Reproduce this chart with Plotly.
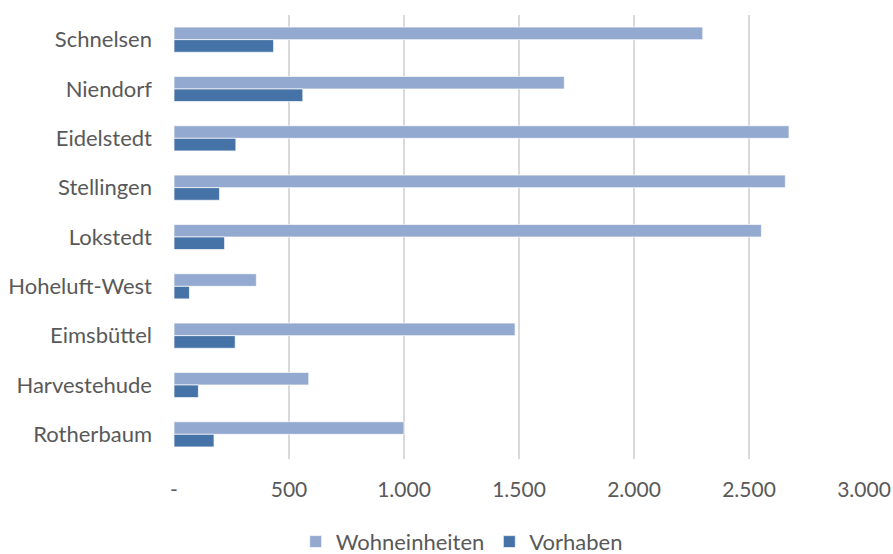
import plotly.graph_objects as go

categories = ["Schnelsen", "Niendorf", "Eidelstedt", "Stellingen", "Lokstedt",
              "Hoheluft-West", "Eimsbüttel", "Harvestehude", "Rotherbaum"]
wohneinheiten = [2299, 1697, 2674, 2658, 2554, 358, 1483, 586, 1000]
vorhaben = [433, 560, 269, 198, 220, 67, 266, 106, 174]
tick_vals = [0, 500, 1000, 1500, 2000, 2500, 3000]
tick_text = ["-", "500", "1.000", "1.500", "2.000", "2.500", "3.000"]

font_family = "Lato, 'Open Sans', sans-serif"
text_color = "#595959"

fig = go.Figure()
fig.add_trace(go.Bar(
    name="Wohneinheiten", y=categories, x=wohneinheiten, orientation="h",
    marker=dict(color="#94A9CF", line=dict(color="rgba(255,255,255,0.7)", width=1)),
))
fig.add_trace(go.Bar(
    name="Vorhaben", y=categories, x=vorhaben, orientation="h",
    marker=dict(color="#4572A7", line=dict(color="rgba(255,255,255,0.7)", width=1)),
))

fig.update_layout(
    width=893, height=554,
    margin=dict(l=174, r=29, t=15, b=95, autoexpand=False),
    barmode="group", bargap=0.49, bargroupgap=0,
    plot_bgcolor="white", paper_bgcolor="white",
    font=dict(family=font_family, size=21, color=text_color),
    showlegend=True,
    legend=dict(orientation="h", xref="container", x=0.517, xanchor="center",
                yref="container", y=0.022, yanchor="middle",
                font=dict(size=22, color=text_color), traceorder="normal",
                itemwidth=30),
)
fig.update_xaxes(
    range=[0, 3000], tickvals=tick_vals, ticktext=tick_text,
    showgrid=True, gridcolor="#D9D9D9", gridwidth=1.5,
    zeroline=False, showline=False, ticks="", ticklabelstandoff=16,
    fixedrange=True, automargin=False,
)
fig.update_yaxes(
    autorange="reversed", showgrid=False, zeroline=False, showline=False,
    ticks="", ticklabelstandoff=21, fixedrange=True, automargin=False,
    tickfont=dict(size=22),
)

fig.write_html(
    "out.html",
    config={"displayModeBar": False},
    post_script="document.body.style.margin='0';document.body.style.overflow='hidden';",
)
